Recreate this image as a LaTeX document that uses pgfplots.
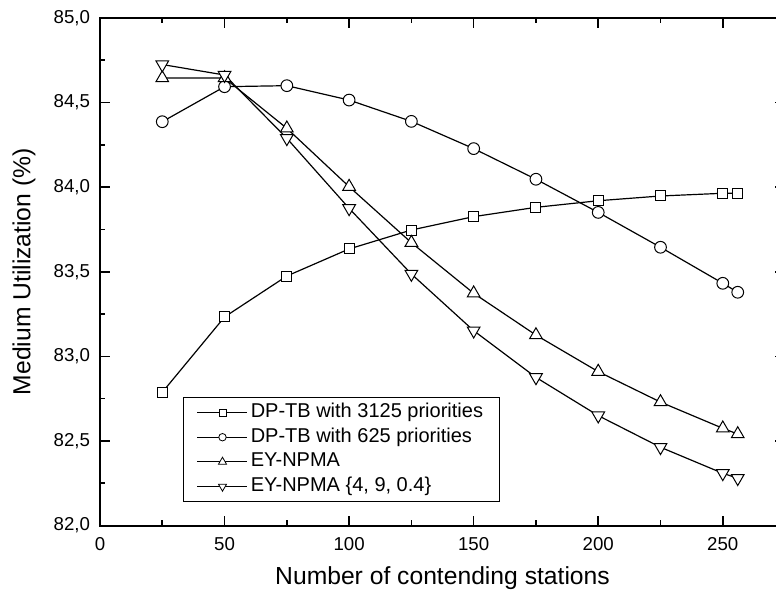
\documentclass[border=0pt]{standalone}
\usepackage{fontspec}
\setmainfont{Liberation Sans}
\usepackage{pgfplots}
\pgfplotsset{compat=1.18}
\begin{document}
\begin{tikzpicture}
\begin{axis}[
  at={(0,0)}, anchor=south west,
  scale only axis, width=513.8pt, height=380.7pt,
  xmin=0, xmax=275, ymin=82, ymax=85,
  xtick={0,50,...,250}, minor xtick={25,75,...,275},
  ytick={82,82.5,...,85}, minor ytick={82.25,82.75,...,84.75},
  axis line style={line width=1.5pt},
  major tick length=7.5pt, minor tick length=4pt,
  every tick/.style={black, line width=1.2pt},
  tick align=inside,
  /pgf/number format/assume math mode=true,
  yticklabel style={/pgf/number format/.cd, fixed, fixed zerofill, precision=1, use comma, /tikz/.cd, xshift=-4pt},
  xticklabel style={yshift=-5pt},
  tick label style={font=\fontsize{14}{16}\selectfont},
  label style={font=\fontsize{18.5}{22}\selectfont},
  xlabel={Number of contending stations},
  ylabel={Medium Utilization (\%)},
  xlabel style={at={(axis description cs:0.5,-0.1032)}, anchor=center},
  ylabel style={at={(axis description cs:-0.111,0.5)}, anchor=center},
  legend image code/.code={\draw[mark repeat=2,mark phase=2,#1] plot coordinates {(0pt,0pt)(18.75pt,0pt)(37.5pt,0pt)};},
  legend style={at={(rel axis cs:0.1212,0.2533)}, anchor=north west, draw=black, line width=0.8pt,
    font=\fontsize{15}{17}\selectfont, legend cell align=left, inner xsep=10pt, inner ysep=2pt,
    nodes={text height=11pt, text depth=3.5pt, inner ysep=2pt}},
]
\addplot[black, line width=0.9pt, mark=square*, mark size=3.75pt, mark options={draw=black, fill=white, line width=0.75pt}, forget plot] coordinates {
(25,82.788) (50,83.233) (75,83.475) (100,83.635) (125,83.747) (150,83.826) (175,83.881) (200,83.920) (225,83.948) (250,83.964) (256,83.964)};
\addplot[black, line width=0.9pt, mark=*, mark size=4.4pt, mark options={draw=black, fill=white, line width=0.75pt}, forget plot] coordinates {
(25,84.387) (50,84.594) (75,84.600) (100,84.515) (125,84.389) (150,84.228) (175,84.047) (200,83.851) (225,83.645) (250,83.432) (256,83.379)};
\addplot[black, line width=0.9pt, mark=triangle*, mark size=5.5pt, mark options={draw=black, fill=white, line width=0.75pt}, forget plot] coordinates {
(25,84.645) (50,84.645) (75,84.348) (100,84.003) (125,83.672) (150,83.373) (175,83.126) (200,82.910) (225,82.730) (250,82.575) (256,82.541)};
\addplot[black, line width=0.9pt, mark=triangle*, mark size=5.5pt, mark options={draw=black, fill=white, line width=0.75pt, rotate=180}, forget plot] coordinates {
(25,84.725) (50,84.663) (75,84.289) (100,83.875) (125,83.487) (150,83.152) (175,82.876) (200,82.650) (225,82.463) (250,82.309) (256,82.280)};
\addlegendimage{black, line width=0.9pt, mark=square*, mark size=2.6pt, mark options={draw=black, fill=white, line width=0.6pt}}
\addlegendentry{DP-TB with 3125 priorities}
\addlegendimage{black, line width=0.9pt, mark=*, mark size=2.8pt, mark options={draw=black, fill=white, line width=0.6pt}}
\addlegendentry{DP-TB with 625 priorities}
\addlegendimage{black, line width=0.9pt, mark=triangle*, mark size=3.5pt, mark options={draw=black, fill=white, line width=0.6pt}}
\addlegendentry{EY-NPMA}
\addlegendimage{black, line width=0.9pt, mark=triangle*, mark size=3.5pt, mark options={draw=black, fill=white, line width=0.6pt, rotate=180}}
\addlegendentry{EY-NPMA \{4, 9, 0.4\}}
\end{axis}
\pgfresetboundingbox
\path[use as bounding box] (-75pt,-49.8pt) rectangle (507pt,394.2pt);
\end{tikzpicture}
\end{document}
